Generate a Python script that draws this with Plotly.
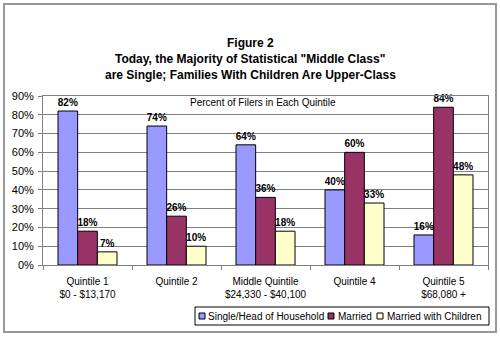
import plotly.graph_objects as go

categories = ["Quintile 1<br>$0 - $13,170", "Quintile 2", "Middle Quintile<br>$24,330 - $40,100",
              "Quintile 4", "Quintile 5<br>$68,080 +"]
series_names = ["Single/Head of Household", "Married", "Married with Children"]
single = [82, 74, 64, 40, 16]
married = [18, 26, 36, 60, 84]
married_children = [7, 10, 18, 33, 48]
colors = ["#9999FF", "#993366", "#FFFFCC"]
title_lines = ["Figure 2", "Today, the Majority of Statistical \"Middle Class\"",
               "are Single; Families With Children Are Upper-Class"]
subtitle = "Percent of Filers in Each Quintile"

FONT = "Arial, Liberation Sans, sans-serif"
L, R, T, B = 43, 488, 96, 265
W, H = R - L, B - T


def xp(px):
    return (px - L) / W


def yp(py):
    return (B - py) / H


fig = go.Figure()
for name, vals, col in zip(series_names, [single, married, married_children], colors):
    fig.add_trace(go.Bar(
        x=categories, y=vals, name=name,
        marker=dict(color=col, line=dict(color="black", width=1)),
        text=["<b>%d%%</b>" % v for v in vals], textposition="outside",
        textfont=dict(family=FONT, size=10, color="black"),
        constraintext="none", cliponaxis=False, showlegend=False,
    ))

annotations = []
for i, line in enumerate(title_lines):
    annotations.append(dict(text="<b>" + line + "</b>", x=xp(250), y=yp(43 + 16 * i),
                            xref="paper", yref="paper", xanchor="center", yanchor="middle",
                            showarrow=False, font=dict(family=FONT, size=12, color="black")))
annotations.append(dict(text=subtitle, x=xp(263), y=yp(102), xref="paper", yref="paper",
                        xanchor="center", yanchor="middle", showarrow=False,
                        font=dict(family=FONT, size=10, color="black")))

shapes = []
# outer frame
shapes.append(dict(type="rect", xref="paper", yref="paper", x0=xp(4), x1=xp(496), y0=yp(4), y1=yp(332),
                   line=dict(color="#999999", width=2), fillcolor="rgba(0,0,0,0)", layer="below"))
# legend box
shapes.append(dict(type="rect", xref="paper", yref="paper", x0=xp(195), x1=xp(489), y0=yp(307), y1=yp(325),
                   line=dict(color="black", width=1), fillcolor="white"))
sq_x = [199, 328, 377]
tx_x = [206, 336, 385]
for name, col, sx, tx in zip(series_names, colors, sq_x, tx_x):
    shapes.append(dict(type="rect", xref="paper", yref="paper", x0=xp(sx), x1=xp(sx + 6),
                       y0=yp(313), y1=yp(319), line=dict(color="black", width=1), fillcolor=col))
    annotations.append(dict(text=name, x=xp(tx), y=yp(316), xref="paper", yref="paper",
                            xanchor="left", yanchor="middle", showarrow=False,
                            font=dict(family=FONT, size=10, color="black")))

fig.update_layout(
    width=500, height=337,
    margin=dict(l=L, r=500 - R, t=T, b=337 - B, pad=0),
    paper_bgcolor="white", plot_bgcolor="white",
    barmode="group", bargap=0.337, bargroupgap=0,
    font=dict(family=FONT, size=10, color="black"),
    annotations=annotations, shapes=shapes,
    xaxis=dict(type="category", tickson="boundaries", ticks="outside", ticklen=4, tickcolor="#808080",
               tickangle=0, automargin=False, ticklabelstandoff=7,
               showline=True, linecolor="#808080", linewidth=1, mirror=True, showgrid=False,
               tickfont=dict(family=FONT, size=10, color="black")),
    yaxis=dict(range=[0, 90], dtick=10, ticksuffix="%", ticks="outside", ticklen=4, tickcolor="#808080",
               automargin=False, ticklabelstandoff=2,
               showline=True, linecolor="#808080", linewidth=1, mirror=True,
               showgrid=True, gridcolor="#808080", gridwidth=1, zeroline=False,
               tickfont=dict(family=FONT, size=11, color="black")),
)

fig.write_html("out.html")
